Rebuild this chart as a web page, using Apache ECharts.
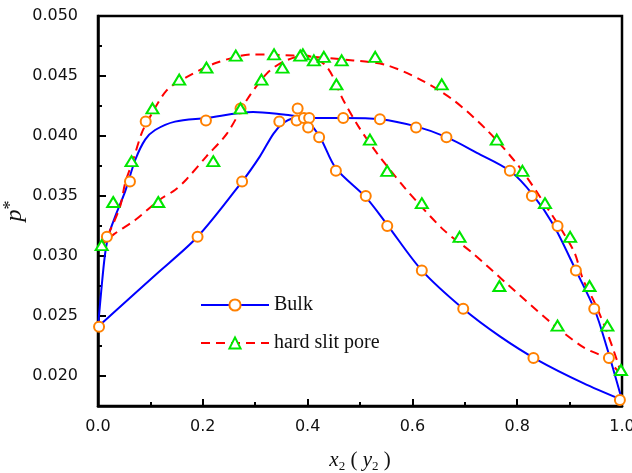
<!DOCTYPE html>
<html>
<head>
<meta charset="utf-8">
<script src="https://cdn.jsdelivr.net/npm/echarts@6/dist/echarts.min.js"></script>
<style>
html,body{margin:0;padding:0;background:#fff;}
#chart{width:632px;height:473px;}
</style>
</head>
<body>
<div id="chart"></div>
<script>
// ---- Data ----
// Bulk: upper (liquid) curve
const bulkLiqX = [0.000, 0.006, 0.013, 0.020, 0.032, 0.052, 0.071, 0.090, 0.109, 0.147, 0.206, 0.296, 0.354, 0.417, 0.468, 0.538, 0.607, 0.665, 0.723, 0.786, 0.830, 0.869, 0.912, 0.948, 0.971, 1.000];
const bulkLiqY = [0.0241, 0.0270, 0.0300, 0.0317, 0.0332, 0.0354, 0.0380, 0.0397, 0.0405, 0.0412, 0.0415, 0.0420, 0.0418, 0.0415, 0.0415, 0.0414, 0.0408, 0.0399, 0.0386, 0.0371, 0.0351, 0.0326, 0.0288, 0.0255, 0.0224, 0.0180];
// Bulk: lower (vapour) curve
const bulkVapX = [0.000, 0.109, 0.190, 0.275, 0.309, 0.335, 0.354, 0.373, 0.390, 0.400, 0.425, 0.454, 0.511, 0.552, 0.618, 0.697, 0.767, 0.840, 0.926, 1.000];
const bulkVapY = [0.0241, 0.0284, 0.0316, 0.0362, 0.0383, 0.0402, 0.0411, 0.0415, 0.0416, 0.0413, 0.0398, 0.0373, 0.0349, 0.0326, 0.0288, 0.0256, 0.0233, 0.0213, 0.0194, 0.0180];
// Hard slit pore: upper curve
const poreLiqX = [0.002, 0.017, 0.042, 0.052, 0.067, 0.083, 0.093, 0.131, 0.169, 0.226, 0.296, 0.373, 0.487, 0.551, 0.615, 0.678, 0.742, 0.799, 0.844, 0.907, 0.926, 0.948, 0.970, 0.985, 1.000];
const poreLiqY = [0.0307, 0.0316, 0.0341, 0.0361, 0.0380, 0.0402, 0.0411, 0.0438, 0.0449, 0.0461, 0.0468, 0.0467, 0.0463, 0.0459, 0.0447, 0.0430, 0.0405, 0.0377, 0.0349, 0.0305, 0.0280, 0.0261, 0.0238, 0.0220, 0.0200];
// Hard slit pore: lower curve
const poreVapX = [0.002, 0.030, 0.071, 0.118, 0.147, 0.169, 0.207, 0.246, 0.284, 0.322, 0.354, 0.395, 0.436, 0.468, 0.497, 0.532, 0.585, 0.659, 0.716, 0.780, 0.863, 0.926, 0.968, 1.000];
const poreVapY = [0.0307, 0.0318, 0.0330, 0.0347, 0.0355, 0.0364, 0.0383, 0.0402, 0.0430, 0.0452, 0.0462, 0.0467, 0.0458, 0.0430, 0.0408, 0.0386, 0.0357, 0.0322, 0.0302, 0.0277, 0.0245, 0.0224, 0.0215, 0.0200];
// Bulk data points (circles)
const bulkPtsX = [0.002, 0.017, 0.061, 0.091, 0.206, 0.272, 0.190, 0.275, 0.346, 0.381, 0.379, 0.393, 0.403, 0.401, 0.468, 0.538, 0.607, 0.665, 0.786, 0.828, 0.877, 0.912, 0.947, 0.975, 0.996, 0.422, 0.454, 0.511, 0.552, 0.618, 0.697, 0.831];
const bulkPtsY = [0.0241, 0.0316, 0.0362, 0.0412, 0.0413, 0.0423, 0.0316, 0.0362, 0.0412, 0.0423, 0.0413, 0.0415, 0.0415, 0.0407, 0.0415, 0.0414, 0.0407, 0.0399, 0.0371, 0.0350, 0.0325, 0.0288, 0.0256, 0.0215, 0.0180, 0.0399, 0.0371, 0.0350, 0.0325, 0.0288, 0.0256, 0.0215];
// Hard slit pore data points (triangles)
const porePtsX = [0.007, 0.029, 0.064, 0.104, 0.155, 0.207, 0.263, 0.336, 0.391, 0.412, 0.431, 0.465, 0.529, 0.656, 0.761, 0.810, 0.853, 0.901, 0.938, 0.972, 0.998, 0.115, 0.220, 0.272, 0.312, 0.352, 0.386, 0.455, 0.519, 0.552, 0.618, 0.690, 0.766, 0.877];
const porePtsY = [0.0309, 0.0345, 0.0379, 0.0423, 0.0447, 0.0457, 0.0467, 0.0468, 0.0468, 0.0463, 0.0466, 0.0463, 0.0466, 0.0443, 0.0397, 0.0371, 0.0344, 0.0316, 0.0275, 0.0242, 0.0205, 0.0345, 0.0379, 0.0423, 0.0447, 0.0457, 0.0467, 0.0443, 0.0397, 0.0371, 0.0344, 0.0316, 0.0275, 0.0242];
// Axis settings
const xTickLabels = ['0.0', '0.2', '0.4', '0.6', '0.8', '1.0'];
const yTickLabels = ['0.020', '0.025', '0.030', '0.035', '0.040', '0.045', '0.050'];
const seriesNames = ['Bulk', 'hard slit pore'];

const zip = (xs, ys) => xs.map((x, i) => [x, ys[i]]);

const BLUE = '#0000ff', RED = '#ff0000', ORANGE = '#ff8000', GREEN = '#00e600';
const tickFont = {fontFamily: 'DejaVu Sans', fontSize: 16, color: '#111'};

const chart = echarts.init(document.getElementById('chart'), null, {renderer: 'canvas'});

function lineSeries(name, xs, ys, color, dashed, sym, symColor) {
  return {
    type: 'line', name: name, data: zip(xs, ys),
    smooth: 0.3,
    showSymbol: false, symbol: sym, symbolSize: 10,
    lineStyle: {color: color, width: 2, type: dashed ? [9, 6] : 'solid'},
    itemStyle: {color: '#fff', borderColor: symColor, borderWidth: 2},
    emphasis: {disabled: true}, z: 2
  };
}

chart.setOption({
  animation: false,
  backgroundColor: '#fff',
  grid: {left: 98, right: 10, top: 16, bottom: 67, containLabel: false, outerBoundsMode: 'none',
         show: true, borderColor: '#000', borderWidth: 2.5, backgroundColor: 'transparent'},
  legend: {
    orient: 'vertical', left: 200, top: 295, padding: 0, itemWidth: 68, itemHeight: 14, itemGap: 18,
    data: seriesNames,
    textStyle: {fontFamily: 'Liberation Serif', fontSize: 20, color: '#111'},
    selectedMode: false
  },
  xAxis: {
    type: 'value', min: 0, max: 1, interval: 0.2,
    name: '{i|x}{s|2}{n| (}{i| y}{s|2}{n| )}', nameLocation: 'middle', nameGap: 42, nameMoveOverlap: false,
    nameTextStyle: {
      rich: {
        i: {fontFamily: 'Liberation Serif', fontStyle: 'italic', fontSize: 21, color: '#111'},
        s: {fontFamily: 'Liberation Serif', fontSize: 13, color: '#111', padding: [12, 0, 0, 0]},
        n: {fontFamily: 'Liberation Serif', fontSize: 21, color: '#111'}
      }
    },
    axisLine: {show: true, onZero: false, lineStyle: {color: '#000', width: 2.5}},
    axisTick: {show: true, inside: true, length: 7, lineStyle: {color: '#000', width: 2}},
    minorTick: {show: true, splitNumber: 2, length: 4, lineStyle: {color: '#000', width: 2}},
    splitLine: {show: false},
    axisLabel: Object.assign({margin: 13, formatter: v => xTickLabels[Math.round(v / 0.2)] || ''}, tickFont)
  },
  yAxis: [{
    type: 'value', min: 0.0175, max: 0.050, interval: 0.0025,
    name: '{i|p}{a|*}', nameLocation: 'middle', nameGap: 70, nameRotate: 90, nameMoveOverlap: false,
    nameTextStyle: {
      rich: {
        i: {fontFamily: 'Liberation Serif', fontStyle: 'italic', fontSize: 24, color: '#111'},
        a: {fontFamily: 'Liberation Serif', fontSize: 18, color: '#111', padding: [0, 0, 8, 0]}
      }
    },
    axisLine: {show: true, onZero: false, lineStyle: {color: '#000', width: 2.5}},
    axisTick: {show: true, inside: true, length: 4, lineStyle: {color: '#000', width: 2}},
    splitLine: {show: false},
    axisLabel: Object.assign({margin: 20, formatter: function (v) {
      const k = Math.round(v / 0.005);
      if (Math.abs(k * 0.005 - v) > 1e-7) return '';
      return yTickLabels[k - 4] || '';
    }}, tickFont)
  }, {
    // helper axis for the longer major ticks (value = 0.050 - p*)
    type: 'value', inverse: true, min: 0, max: 0.0325, interval: 0.005, position: 'left', offset: 0,
    axisLine: {show: false},
    axisTick: {show: true, inside: true, length: 8, lineStyle: {color: '#000', width: 2}},
    axisLabel: {show: false}, splitLine: {show: false}
  }],
  series: [
    lineSeries('Bulk', bulkLiqX, bulkLiqY, BLUE, false, 'circle', ORANGE),
    lineSeries('Bulk', bulkVapX, bulkVapY, BLUE, false, 'circle', ORANGE),
    lineSeries('hard slit pore', poreLiqX, poreLiqY, RED, true, 'triangle', GREEN),
    lineSeries('hard slit pore', poreVapX, poreVapY, RED, true, 'triangle', GREEN),
    {
      type: 'scatter', name: 'Bulk', data: zip(bulkPtsX, bulkPtsY),
      symbol: 'circle', symbolSize: 10,
      itemStyle: {color: '#fff', borderColor: ORANGE, borderWidth: 2, opacity: 1},
      emphasis: {disabled: true}, z: 3
    },
    {
      type: 'scatter', name: 'hard slit pore', data: zip(porePtsX, porePtsY),
      symbol: 'triangle', symbolSize: [12, 10],
      itemStyle: {color: '#fff', borderColor: GREEN, borderWidth: 2, opacity: 1},
      emphasis: {disabled: true}, z: 4
    }
  ]
});
</script>
</body>
</html>
